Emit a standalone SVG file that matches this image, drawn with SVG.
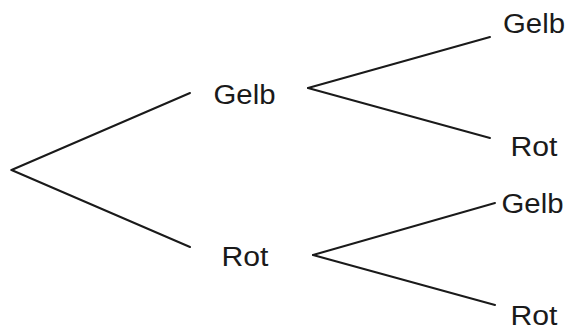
<svg xmlns="http://www.w3.org/2000/svg" width="568" height="331" viewBox="0 0 568 331">
  <style>
    .edge { stroke: #1a1a1a; stroke-width: 2; stroke-linecap: round; fill: none; }
    .lbl { font-family: "Liberation Sans", Arial, sans-serif; font-size: 27px; fill: #1a1a1a; }
  </style>
  <rect width="568" height="331" fill="#ffffff"/>
  <g id="connectors">
    <line class="edge" x1="11.5" y1="170" x2="190" y2="93"/>
    <line class="edge" x1="11.5" y1="170" x2="190" y2="247"/>
    <line class="edge" x1="308" y1="88" x2="490" y2="37"/>
    <line class="edge" x1="308" y1="88" x2="490" y2="138"/>
    <line class="edge" x1="313" y1="255" x2="495" y2="203"/>
    <line class="edge" x1="313" y1="255" x2="495" y2="305"/>
  </g>
  <g id="n-gelb"><text class="lbl" x="213.5" y="104" textLength="62" lengthAdjust="spacingAndGlyphs">Gelb</text></g>
  <g id="n-rot"><text class="lbl" x="221.5" y="266" textLength="47" lengthAdjust="spacingAndGlyphs">Rot</text></g>
  <g id="n-gelb-gelb"><text class="lbl" x="503" y="33" textLength="62" lengthAdjust="spacingAndGlyphs">Gelb</text></g>
  <g id="n-gelb-rot"><text class="lbl" x="510.5" y="155.5" textLength="47" lengthAdjust="spacingAndGlyphs">Rot</text></g>
  <g id="n-rot-gelb"><text class="lbl" x="501.5" y="213" textLength="62" lengthAdjust="spacingAndGlyphs">Gelb</text></g>
  <g id="n-rot-rot"><text class="lbl" x="510.5" y="325" textLength="47" lengthAdjust="spacingAndGlyphs">Rot</text></g>
</svg>
